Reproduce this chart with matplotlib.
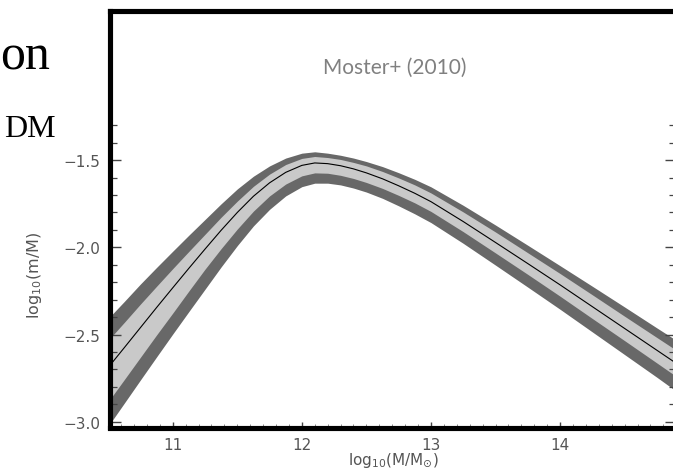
import matplotlib
matplotlib.use("Agg")
import matplotlib.pyplot as plt
from matplotlib.ticker import FixedLocator, NullFormatter

# ---- data ----
log_mhalo = [10.51, 10.625, 10.75, 10.875, 11.0, 11.125, 11.25, 11.375, 11.5, 11.625,
             11.75, 11.875, 12.0, 12.1, 12.2, 12.3, 12.4, 12.5, 12.625, 12.75, 12.875,
             13.0, 13.25, 13.5, 13.75, 14.0, 14.25, 14.5, 14.75, 14.9]
center    = [-2.68, -2.575, -2.46, -2.345, -2.232, -2.12, -2.01, -1.902, -1.80, -1.707,
             -1.63, -1.57, -1.53, -1.516, -1.52, -1.532, -1.55, -1.573, -1.607, -1.647, -1.69,
             -1.738, -1.852, -1.972, -2.093, -2.215, -2.34, -2.465, -2.59, -2.665]
upper_out = [-2.40, -2.31, -2.21, -2.115, -2.022, -1.93, -1.84, -1.75, -1.665, -1.592,
             -1.533, -1.488, -1.46, -1.452, -1.46, -1.472, -1.488, -1.508, -1.537, -1.572, -1.61,
             -1.653, -1.759, -1.872, -1.988, -2.105, -2.223, -2.342, -2.462, -2.533]
upper_in  = [-2.525, -2.43, -2.325, -2.223, -2.122, -2.023, -1.925, -1.827, -1.735, -1.65,
             -1.58, -1.525, -1.49, -1.479, -1.485, -1.496, -1.513, -1.533, -1.565, -1.602, -1.642,
             -1.688, -1.797, -1.912, -2.031, -2.15, -2.272, -2.395, -2.517, -2.59]
lower_in  = [-2.875, -2.758, -2.63, -2.502, -2.377, -2.25, -2.125, -2.007, -1.895, -1.792,
             -1.705, -1.637, -1.59, -1.573, -1.575, -1.587, -1.605, -1.628, -1.662, -1.702, -1.745,
             -1.794, -1.91, -2.032, -2.155, -2.28, -2.408, -2.535, -2.663, -2.74]
lower_out = [-3.015, -2.893, -2.76, -2.628, -2.497, -2.368, -2.24, -2.112, -1.99, -1.877,
             -1.782, -1.705, -1.652, -1.632, -1.632, -1.642, -1.66, -1.683, -1.719, -1.762, -1.808,
             -1.858, -1.977, -2.102, -2.228, -2.355, -2.485, -2.615, -2.745, -2.825]

y_major = [-3.0, -2.5, -2.0, -1.5]
y_minor = [-2.9, -2.8, -2.7, -2.6, -2.4, -2.3, -2.2, -2.1, -1.9, -1.8, -1.7, -1.6, -1.4, -1.3]
x_major = [11, 12, 13, 14]

title_text = "Moster+ (2010)"
xlabel_text = r"log$_{10}$(M/M$_{\odot}$)"
ylabel_text = r"log$_{10}$(m/M)"

plt.rcParams["mathtext.fontset"] = "dejavusans"

W, H = 673, 477
fig = plt.figure(figsize=(W / 100, H / 100), dpi=100)
fig.patch.set_facecolor("white")

ax = fig.add_axes([110 / W, 48.5 / H, 566 / W, 416.8 / H])
ax.set_xlim(10.514, 14.898)
ax.set_ylim(-3.033, -0.643)

ax.fill_between(log_mhalo, lower_out, upper_out, color="#686868", lw=0)
ax.fill_between(log_mhalo, lower_in, upper_in, color="#c9c9c9", lw=0)
ax.plot(log_mhalo, center, color="black", lw=0.8)

for s in ax.spines.values():
    s.set_linewidth(3.7)
    s.set_color("black")

tick_col = "#444444"
lab_col = "#555555"
ax.yaxis.set_major_locator(FixedLocator(y_major))
ax.yaxis.set_minor_locator(FixedLocator(y_minor))
ax.xaxis.set_major_locator(FixedLocator(x_major))
x_minor = [v / 10 for v in range(106, 149) if v % 10 != 0]
ax.xaxis.set_minor_locator(FixedLocator(x_minor))
ax.yaxis.set_minor_formatter(NullFormatter())
ax.xaxis.set_minor_formatter(NullFormatter())

ax.tick_params(axis="y", which="major", direction="in", left=True, right=True,
               length=7.7, width=1.0, color=tick_col, labelsize=11,
               labelcolor=lab_col, pad=7)
ax.tick_params(axis="y", which="minor", direction="in", left=True, right=True,
               length=4.8, width=0.9, color=tick_col)
ax.tick_params(axis="x", which="major", direction="in", bottom=True, top=False,
               length=4.5, width=1.0, color=tick_col, labelsize=11,
               labelcolor=lab_col, pad=7)
ax.tick_params(axis="x", which="minor", direction="in", bottom=True, top=False,
               length=3.0, width=0.7, color="#888888")

ax.set_xlabel(xlabel_text, fontsize=11, color=lab_col, va="center")
ax.xaxis.set_label_coords((393 - 110) / 566, -(461 - 428.5) / 416.8)
ax.set_ylabel(ylabel_text, fontsize=11.5, color=lab_col, va="center")
ax.yaxis.set_label_coords((35 - 110) / 566, (428.5 - 275) / 416.8)

# overlay title (slide text)
fig.text(395 / W, 1 - 68 / H, title_text, fontsize=15, color="#808080",
         family="Lato", ha="center", va="center")

# cropped slide text at left
fig.text(0 / W, 1 - 70 / H, "on", fontsize=36, family="Liberation Serif",
         color="black", ha="left", va="baseline")
fig.text(4 / W, 1 - 137 / H, "DM", fontsize=23, family="Liberation Serif",
         color="black", ha="left", va="baseline")

fig.savefig("out.png", dpi=100, facecolor="white")
